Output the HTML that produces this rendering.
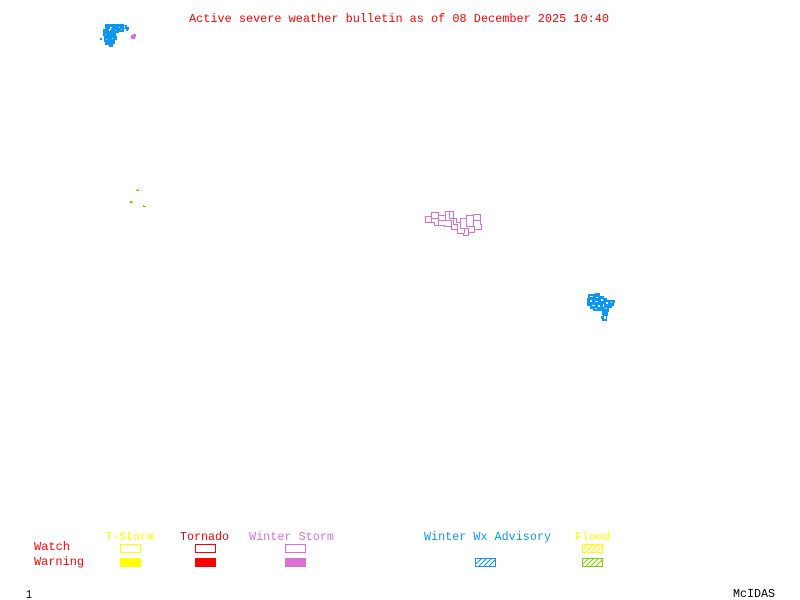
<!DOCTYPE html>
<html><head><meta charset="utf-8"><style>
html,body{margin:0;padding:0;background:#fff}
svg{display:block}
text{font-family:"Liberation Mono",monospace;font-size:12px}
</style></head><body>
<svg width="800" height="600" viewBox="0 0 800 600" xmlns="http://www.w3.org/2000/svg">
<rect width="800" height="600" fill="#fff"/>
<text x="189" y="22" fill="#f00" textLength="420" lengthAdjust="spacingAndGlyphs">Active severe weather bulletin as of 08 December 2025 10:40</text>
<g shape-rendering="crispEdges">
<path fill="#0c97f5" d="M105 24H124V25H127V27H129V30H128V31H126V29H124V32H119V33H116V36H117V40H115V44H113V47H109V45H105V42H104V36H103V29H105Z"/>
<path fill="#fff" d="M110 27h2v1h-1v2h-1v1h-1v-2h1zM119 27h1v1h-1zM105 34h1v1h-1zM115 30h1v1h-1zM121 29h1v1h-1zM112 38h1v1h-1zM106 39h1v1h-1z"/>
<path fill="#fff" d="M124 26h1v2h-1z"/>
<rect x="100" y="38" width="2" height="2" fill="#0c97f5"/>
<path fill="#da70d6" d="M133 34h3v3h-1v2h-4v-4h2z"/>
<path fill="#7fd000" d="M137 189h1v1h1v1h-3v-1h1zM130 201h2v1h1v1h-3zM143 205h1v1h2v1h-3z"/>
<g fill="none" stroke="#da70d6" stroke-width="1">
<path d="M425.500 216.500H431.500V212.500H438.500V215.500H445.500V211.500H453.500V218.500H456.500V222.500H460.500V218.500H466.500V215.500H473.500V214.500H480.500V224.500H481.500V229.500H474.500V232.500H468.500V235.500H463.500V233.500H457.500V229.500H451.500V226.500H444.500V225.500H434.500V222.500H425.500Z"/>
<path d="M431.500 212.500V222.500M438.500 215.500V225.500M445.500 215.500V220.500H451.500V226.500M453.500 218.500V224.500H457.500V229.500M460.500 218.500V228.500H464.500V233.500M466.500 218.500V226.500H474.500V232.500M473.500 214.500V226.500M445.500 220.500H438.500M431.500 218.500H438.500M456.500 222.500H460.500M460.500 228.500H468.500V235.500M473.500 220.500H480.500M449.500 211.500V218.500H453.500"/>
</g>
<path fill="#0c97f5" d="M588 294H595V293H600V296H604V298H607V300H615V303H614V306H612V308H609V312H608V316H607V321H602V319H601V316H603V315H602V311H593V309H590V306H587V298H588Z"/>
<path fill="#fff" d="M590 296h3v1h-3zM596 297h2v1h-2zM590 300h2v2h-2zM595 301h3v1h-3zM601 299h2v2h-2zM606 302h2v2h-2zM610 302h2v1h-2zM592 305h3v1h-3zM598 305h2v2h-2zM603 304h1v3h-1zM595 308h2v1h-2zM605 308h2v1h-2zM604 316h2v3h-2z"/>
<rect x="120.500" y="544.500" width="20" height="8" fill="#fff" stroke="#ff0"/>
<rect x="120" y="558" width="21" height="9" fill="#ff0"/>
<rect x="195.500" y="544.500" width="20" height="8" fill="#fff" stroke="#f00"/>
<rect x="195" y="558" width="21" height="9" fill="#f00"/>
<rect x="285.500" y="544.500" width="20" height="8" fill="#fff" stroke="#da70d6"/>
<rect x="285" y="558" width="21" height="9" fill="#da70d6"/>
<g fill="none" stroke-width="1">
<path stroke="#0c97f5" d="M475.500 558.500h20v8h-20zM479 566l7-7M484 566l7-7M489 566l6-6M476 564l5-5"/>
<path stroke="#ff0" d="M582.500 544.500h20v8h-20zM586 552l7-7M591 552l7-7M596 552l6-6M583 550l5-5"/>
<path stroke="#7fd000" d="M582.500 558.500h20v8h-20zM586 566l7-7M591 566l7-7M596 566l6-6M583 564l5-5"/>
</g>
</g>
<text x="105" y="540" fill="#ff0" textLength="49" lengthAdjust="spacingAndGlyphs">T-Storm</text>
<text x="180" y="540" fill="#f00" textLength="49" lengthAdjust="spacingAndGlyphs">Tornado</text>
<text x="249" y="540" fill="#da70d6" textLength="85" lengthAdjust="spacingAndGlyphs">Winter Storm</text>
<text x="424" y="540" fill="#0c97f5" textLength="127" lengthAdjust="spacingAndGlyphs">Winter Wx Advisory</text>
<text x="575" y="540" fill="#ff0" textLength="35" lengthAdjust="spacingAndGlyphs">Flood</text>
<text x="34" y="550" fill="#f00" textLength="36" lengthAdjust="spacingAndGlyphs">Watch</text>
<text x="34" y="565" fill="#f00" textLength="50" lengthAdjust="spacingAndGlyphs">Warning</text>
<text x="26" y="598" fill="#000" textLength="6" lengthAdjust="spacingAndGlyphs">1</text>
<text x="733" y="597" fill="#000" textLength="42" lengthAdjust="spacingAndGlyphs">McIDAS</text>
</svg>
</body></html>
